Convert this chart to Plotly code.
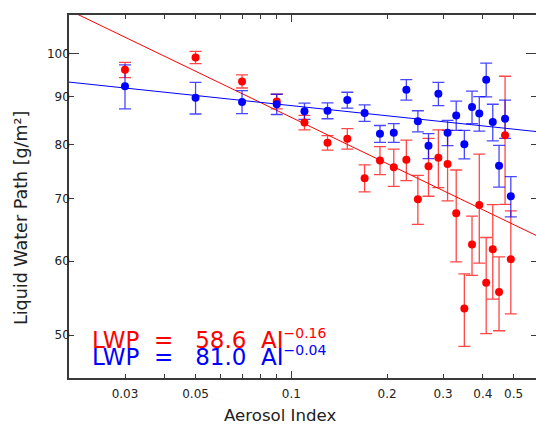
import math
import plotly.graph_objects as go

# ---------------- data ----------------
aerosol_index = [0.03, 0.05, 0.07, 0.09, 0.11, 0.13, 0.15, 0.17, 0.19, 0.21, 0.23, 0.25,
                 0.27, 0.29, 0.31, 0.33, 0.35, 0.37, 0.39, 0.41, 0.43, 0.45, 0.47, 0.49]

lwp_blue = [92.3, 89.7, 88.8, 88.3, 86.8, 86.9, 89.2, 86.4, 82.1, 82.3, 91.5, 84.7,
            79.7, 90.6, 82.3, 85.9, 80.0, 87.7, 86.3, 93.8, 84.5, 75.9, 85.2, 70.4]
err_blue = [5.0, 3.5, 2.5, 2.2, 1.75, 1.7, 1.75, 1.75, 1.7, 1.9, 2.3, 2.2,
            2.45, 2.6, 2.55, 3.1, 2.8, 3.5, 3.65, 3.9, 3.8, 3.9, 4.0, 3.5]

lwp_red = [96.1, 99.1, 93.4, 88.9, 84.4, 80.3, 81.1, 73.6, 76.9, 75.6, 77.0, 69.9,
           75.8, 77.4, 76.2, 67.5, 53.4, 62.5, 68.9, 56.9, 61.8, 55.6, 81.8, 60.3]
err_red = [1.8, 1.5, 1.5, 1.6, 1.5, 1.45, 2.05, 2.45, 2.65, 3.45, 3.85, 4.2,
           5.4, 5.5, 6.6, 7.6, 4.75, 4.55, 9.2, 6.7, 7.15, 5.05, 12.8, 7.6]

# power-law fits  LWP = a * AI^b
fit_red = (58.6, -0.164)
fit_blue = (81.0, -0.036)
fit_labels = ("\u22120.16", "\u22120.04")
fit_x = [0.02, 0.6]

x_ticks = [0.03, 0.05, 0.1, 0.2, 0.3, 0.4, 0.5]
x_tick_text = ["0.03", "0.05", "0.1", "0.2", "0.3", "0.4", "0.5"]
x_minor = [0.03, 0.04, 0.05, 0.06, 0.07, 0.08, 0.09, 0.2, 0.3, 0.4, 0.5]
y_ticks = [50, 60, 70, 80, 90, 100]
y_minor = [50, 60, 70, 80, 90]

x_range = [0.02, 0.588]
y_range = [45, 110]

RED = "#ff0000"
BLUE = "#0000ff"
RED_E = "rgba(255,0,0,0.72)"
BLUE_E = "rgba(0,0,255,0.72)"
AXC = "#3a3a3a"
FONT = "DejaVu Sans"

fig = go.Figure()

def fit_line(p):
    return [p[0] * v ** p[1] for v in fit_x]

fig.add_trace(go.Scatter(x=fit_x, y=fit_line(fit_red), mode="lines",
                         line=dict(color=RED, width=1), showlegend=False, hoverinfo="skip"))
fig.add_trace(go.Scatter(x=fit_x, y=fit_line(fit_blue), mode="lines",
                         line=dict(color=BLUE, width=1), showlegend=False, hoverinfo="skip"))

for y, e, c in [(lwp_red, err_red, RED_E), (lwp_blue, err_blue, BLUE_E)]:
    fig.add_trace(go.Scatter(
        x=aerosol_index, y=y, mode="markers",
        marker=dict(size=8, color="rgba(0,0,0,0)"),
        error_y=dict(type="data", array=e, visible=True, color=c, thickness=1.3, width=6),
        showlegend=False, hoverinfo="skip"))
for y, c in [(lwp_red, RED), (lwp_blue, BLUE)]:
    fig.add_trace(go.Scatter(x=aerosol_index, y=y, mode="markers",
                             marker=dict(size=8, color=c, line=dict(width=0)),
                             showlegend=False))

# invisible helper traces so overlay tick axes are drawn
fig.add_trace(go.Scatter(x=[0.1], y=[60], xaxis="x2", yaxis="y2", mode="markers",
                         marker=dict(opacity=0), showlegend=False, hoverinfo="skip"))
fig.add_trace(go.Scatter(x=[0.1], y=[60], xaxis="x", yaxis="y3", mode="markers",
                         marker=dict(opacity=0), showlegend=False, hoverinfo="skip"))

xr = [math.log10(v) for v in x_range]
yr = [math.log10(v) for v in y_range]

fig.update_layout(
    width=536, height=424,
    margin=dict(l=69, r=0, t=15, b=46),
    paper_bgcolor="white", plot_bgcolor="white",
    font=dict(family=FONT, size=12, color="#222"),
    xaxis=dict(type="log", range=xr, tickmode="array", tickvals=x_ticks, ticktext=x_tick_text,
               ticks="", showline=True, linecolor=AXC, linewidth=1.6, mirror=True,
               showgrid=False, zeroline=False, ticklabelstandoff=4, automargin=False,
               tickfont=dict(family=FONT, size=12, color="#222")),
    xaxis2=dict(type="log", range=xr, overlaying="x", side="bottom", anchor="y",
                tickmode="array", tickvals=[0.1], ticks="inside", ticklen=7, tickwidth=1,
                tickcolor=AXC, showticklabels=False, showline=True, linecolor=AXC,
                linewidth=1.6, mirror="ticks", showgrid=False, zeroline=False, automargin=False,
                minor=dict(tickmode="array", tickvals=x_minor, ticks="inside", ticklen=4,
                           tickwidth=1, tickcolor=AXC, showgrid=False)),
    yaxis=dict(type="log", range=yr, tickmode="array", tickvals=y_ticks,
               ticktext=[str(v) for v in y_ticks], ticks="", showline=True, linecolor=AXC,
               linewidth=1.6, showgrid=False, zeroline=False, ticklabelstandoff=-5,
               automargin=False, tickfont=dict(family=FONT, size=12, color="#222")),
    yaxis2=dict(type="log", range=yr, overlaying="y", side="right", anchor="x",
                tickmode="array", tickvals=[100], ticks="inside", ticklen=10, tickwidth=1,
                tickcolor=AXC, showticklabels=False, showline=False, showgrid=False,
                zeroline=False, automargin=False,
                minor=dict(tickmode="array", tickvals=y_minor, ticks="inside", ticklen=5,
                           tickwidth=1, tickcolor=AXC, showgrid=False)),
    yaxis3=dict(type="log", range=yr, overlaying="y", side="left", anchor="x",
                tickmode="array", tickvals=[100], ticks="inside", ticklen=10, tickwidth=1,
                tickcolor=AXC, showticklabels=False, showline=False, showgrid=False,
                zeroline=False, automargin=False,
                minor=dict(tickmode="array", tickvals=y_minor, ticks="inside", ticklen=5,
                           tickwidth=1, tickcolor=AXC, showgrid=False)),
)

# axis titles (placed in paper coords)
PW, PH = 536 - 69, 424 - 15 - 46
def px(xp):
    return (xp - 69) / PW
def py(yp):
    return (378 - yp) / PH

fig.add_annotation(text="Aerosol Index", xref="paper", yref="paper", x=px(280), y=py(415),
                   showarrow=False, xanchor="center", yanchor="middle",
                   font=dict(family=FONT, size=16.6, color="#222"))
fig.add_annotation(text="Liquid Water Path [g/m²]", xref="paper", yref="paper",
                   x=px(21), y=py(218), textangle=-90, showarrow=False,
                   xanchor="center", yanchor="middle",
                   font=dict(family=FONT, size=17.5, color="#222"))

nb = "\u00a0"
def eq_text(coef, expo):
    return (f"LWP{nb}{nb}={nb}{nb}{nb}{coef:.1f}{nb}{nb}AI"
            f"<sup><span style='font-size:14px'>{expo}</span></sup>")

fig.add_annotation(text=eq_text(fit_red[0], fit_labels[0]),
                   xref="paper", yref="paper", x=px(90), y=py(339), showarrow=False,
                   xanchor="left", yanchor="middle", font=dict(family=FONT, size=23, color=RED))
fig.add_annotation(text=eq_text(fit_blue[0], fit_labels[1]),
                   xref="paper", yref="paper", x=px(90), y=py(356), showarrow=False,
                   xanchor="left", yanchor="middle", font=dict(family=FONT, size=23, color=BLUE))

fig.write_html("out.html", config={"displayModeBar": False},
               post_script="document.body.style.margin='0';document.body.style.overflow='hidden';")
